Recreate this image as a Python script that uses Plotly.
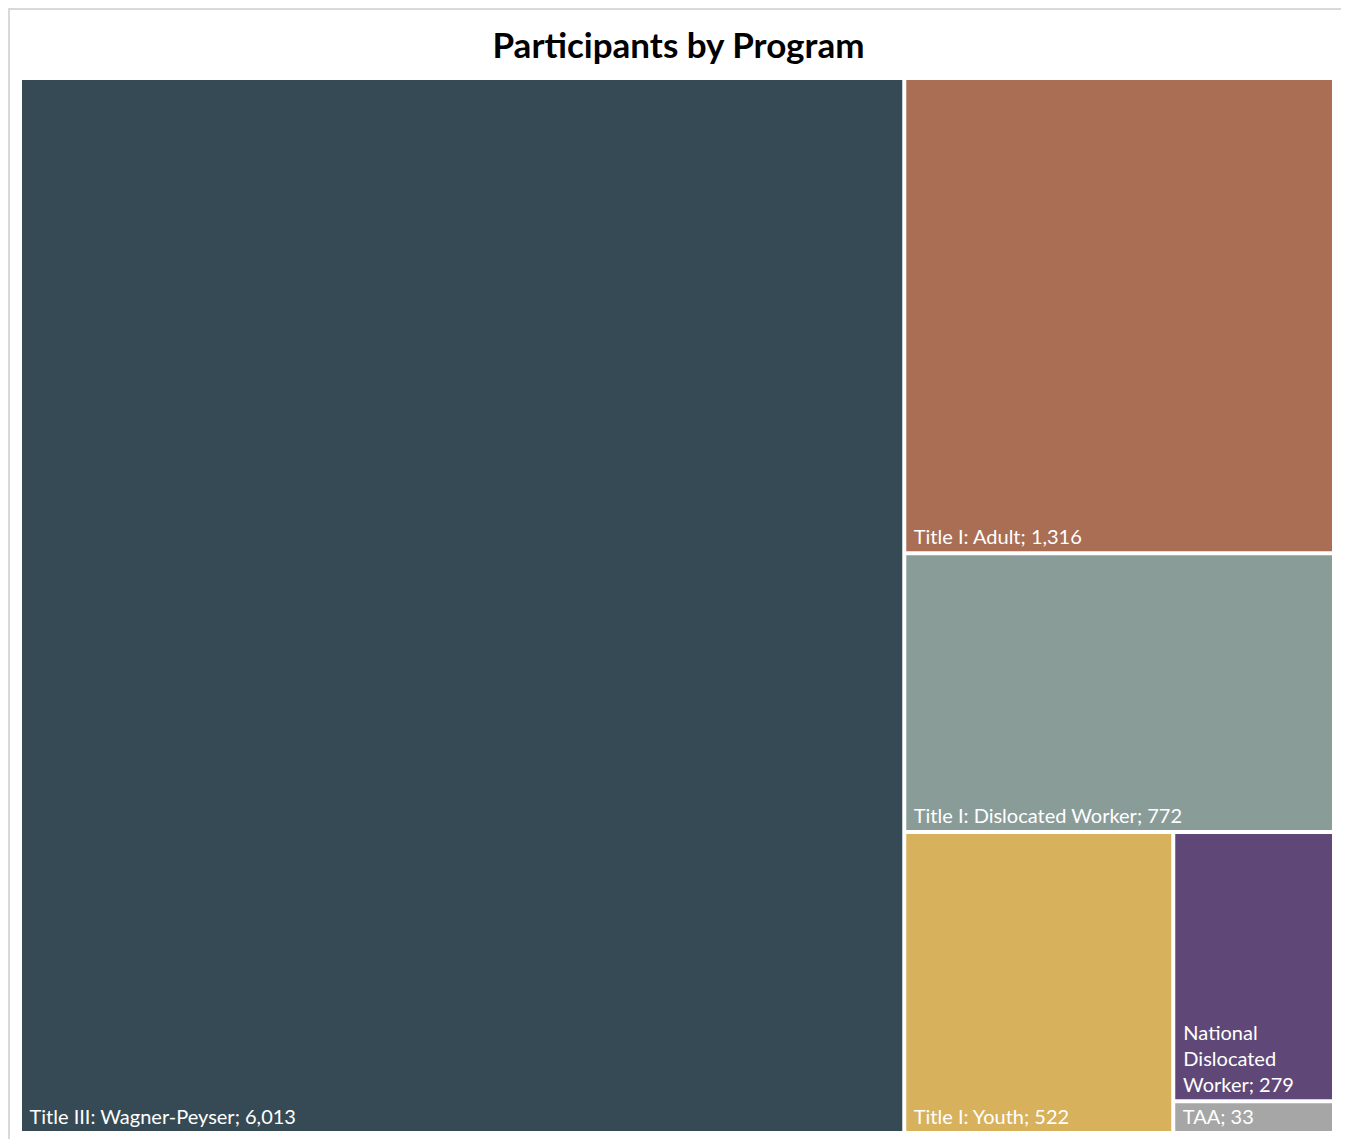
import plotly.graph_objects as go

programs = ["Title III: Wagner-Peyser", "Title I: Adult", "Title I: Dislocated Worker",
            "Title I: Youth", "National Dislocated Worker", "TAA"]
participants = [6013, 1316, 772, 522, 279, 33]
colors = ["#364A55", "#A96E54", "#8A9C98", "#D8B15C", "#5F4878", "#A6A6A6"]

# display text: wrap the narrow tile's label like the original, with a small left indent
pad = "&nbsp;"
display = []
for name, v in zip(programs, participants):
    lines = f"{name}; {v:,}"
    if name == "National Dislocated Worker":
        lines = lines.replace(" ", "<br>", 2)
    display.append("<br>".join(pad + s for s in lines.split("<br>")))

W, H = 1341, 1131
L, R, T, B = 14, 17, 72, 8
pw, ph = W - L - R, H - T - B

fig = go.Figure(go.Treemap(
    labels=programs,
    parents=[""] * len(programs),
    values=participants,
    text=display,
    marker=dict(colors=colors, line=dict(width=0), pad=dict(t=0, l=0, r=0, b=0)),
    tiling=dict(pad=4, packing="squarify"),
    pathbar=dict(visible=False),
    texttemplate="%{text}",
    textposition="bottom left",
    textfont=dict(family="Lato, Open Sans, sans-serif", size=20, color="white"),
    sort=True,
    hoverinfo="label+value",
))

fig.update_layout(
    width=W, height=H,
    margin=dict(l=L, r=R, t=T, b=B),
    paper_bgcolor="white",
    title=dict(text="<b>Participants by Program</b>", x=0.5, xanchor="center",
               yref="container", y=1 - 38 / H, yanchor="middle",
               font=dict(family="Lato, Open Sans, sans-serif", size=35, color="black")),
    uniformtext=dict(minsize=20, mode="show"),
    shapes=[dict(type="rect", xref="paper", yref="paper",
                 x0=(1 - L) / pw, x1=(1340 - L) / pw, y0=-(B + 10) / ph, y1=1 + (T - 1) / ph,
                 line=dict(color="#D9D9D9", width=2), fillcolor="rgba(0,0,0,0)", layer="below")],
)

fig.write_html("out.html")
